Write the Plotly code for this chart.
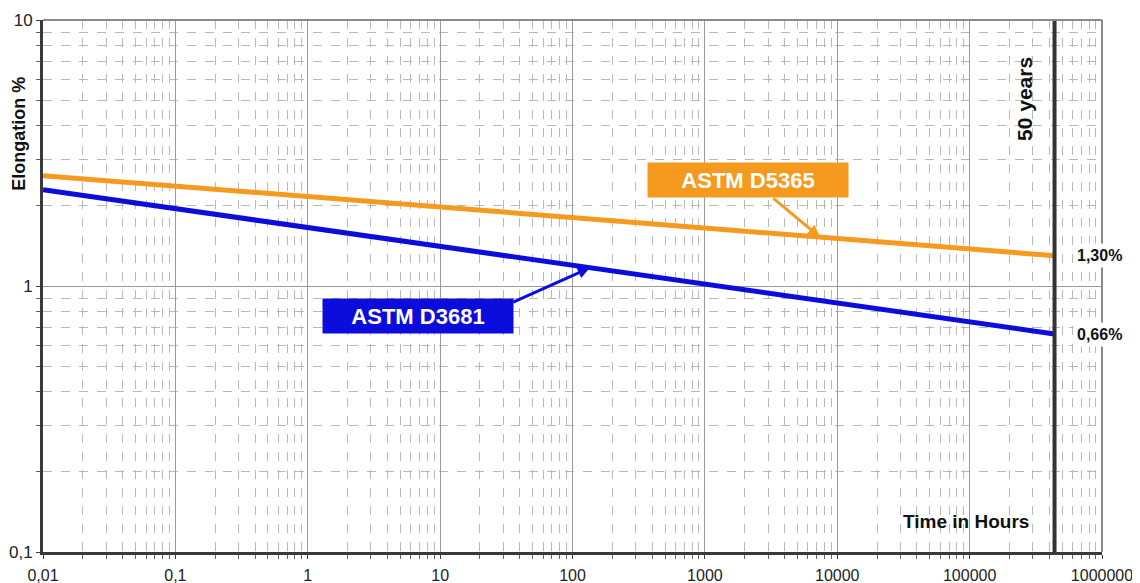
import plotly.graph_objects as go
import math

# Data
time_hours = [0.01, 438000]          # 0.01 h to 50 years (50*8760 h)
elong_d5365 = [2.60, 1.30]
elong_d3681 = [2.30, 0.66]
fifty_years_h = 438000
end_labels = ["1,30%", "0,66%"]

x_tickvals = [0.01, 0.1, 1, 10, 100, 1000, 10000, 100000, 1000000]
x_ticktext = ["0,01", "0,1", "1", "10", "100", "1000", "10000", "100000", "1000000"]
y_tickvals = [0.1, 1, 10]
y_ticktext = ["0,1", "1", "10"]

ORANGE = "#F59A1E"
BLUE = "#0C0CDC"
FONT = "Liberation Sans, Arial, sans-serif"

fig = go.Figure()
fig.add_trace(go.Scatter(x=time_hours, y=elong_d5365, mode="lines",
                         line=dict(color=ORANGE, width=5), showlegend=False))
fig.add_trace(go.Scatter(x=time_hours, y=elong_d3681, mode="lines",
                         line=dict(color=BLUE, width=5), showlegend=False))

# 50-year line
fig.add_shape(type="line", xref="x", yref="paper", x0=fifty_years_h, x1=fifty_years_h,
              y0=0, y1=1, line=dict(color="#333333", width=4))
# top and right borders (gray)
fig.add_shape(type="line", xref="paper", yref="paper", x0=0, x1=1, y0=1, y1=1,
              line=dict(color="#8a8a8a", width=2))
fig.add_shape(type="line", xref="paper", yref="paper", x0=1, x1=1, y0=0, y1=1,
              line=dict(color="#8a8a8a", width=2))


def lx(v):
    return math.log10(v)


def interp(series, xv):
    # position along the straight log-log line
    f = (lx(xv) - lx(time_hours[0])) / (lx(time_hours[1]) - lx(time_hours[0]))
    return 10 ** (lx(series[0]) + f * (lx(series[1]) - lx(series[0])))


PLOT_W = 1059.0

ann = []
# end labels
for lab, yv in zip(end_labels, [elong_d5365[1], elong_d3681[1]]):
    ann.append(dict(x=1.0, xref="paper", xanchor="center", xshift=-3,
                    y=lx(yv), yref="y", text="<b>%s</b>" % lab, showarrow=False,
                    font=dict(family=FONT, size=16, color="#111111"),
                    bgcolor="white", borderpad=3))

# arrows
xa = 7400
ann.append(dict(x=lx(xa), y=lx(interp(elong_d5365, xa)), xref="x", yref="y",
                ax=-48, ay=-40, text="", showarrow=True, arrowhead=2, arrowsize=0.8,
                arrowwidth=3, arrowcolor=ORANGE, standoff=0))
xb = 135
ann.append(dict(x=lx(xb), y=lx(interp(elong_d3681, xb)), xref="x", yref="y",
                ax=-78, ay=35, text="", showarrow=True, arrowhead=2, arrowsize=0.8,
                arrowwidth=3, arrowcolor=BLUE, standoff=0))

# label boxes
ann.append(dict(x=lx(xa), y=lx(interp(elong_d5365, xa)), xref="x", yref="y",
                xshift=-72, yshift=57, text="<b>ASTM D5365</b>", showarrow=False,
                font=dict(family=FONT, size=22, color="white"),
                bgcolor=ORANGE, width=196, height=30, borderpad=2))
ann.append(dict(x=lx(xb), y=lx(interp(elong_d3681, xb)), xref="x", yref="y",
                xshift=-172, yshift=-48, text="<b>ASTM D3681</b>", showarrow=False,
                font=dict(family=FONT, size=22, color="white"),
                bgcolor=BLUE, width=186, height=30, borderpad=2))

# text labels
ann.append(dict(x=(19 - 43) / PLOT_W, xref="paper", y=0.786, yref="paper",
                text="<b>Elongation %</b>",
                textangle=-90, showarrow=False, xanchor="center", yanchor="middle",
                font=dict(family=FONT, size=18, color="#111111")))
ann.append(dict(x=0.927, xref="paper", y=0.851, yref="paper", text="<b>50 years</b>",
                textangle=-90, showarrow=False, xanchor="center", yanchor="middle",
                font=dict(family=FONT, size=21, color="#111111")))
ann.append(dict(x=0.872, xref="paper", y=0.058, yref="paper", text="<b>Time in Hours</b>",
                showarrow=False, xanchor="center", yanchor="middle",
                font=dict(family=FONT, size=19, color="#111111")))

# page body has an 8px margin, so the figure is drawn 8px smaller and offset
fig.update_layout(
    width=1132, height=575,
    margin=dict(l=35, r=38, t=12, b=31, autoexpand=False),
    paper_bgcolor="white", plot_bgcolor="white",
    annotations=ann,
    font=dict(family=FONT, size=16, color="#222222"),
)
fig.update_xaxes(type="log", range=[-2, 6], tickvals=x_tickvals, ticktext=x_ticktext,
                 automargin=False, ticklabelstandoff=3,
                 showgrid=True, gridcolor="#9a9a9a", gridwidth=1,
                 showline=True, linecolor="#3a3a3a", linewidth=3,
                 ticks="outside", ticklen=4, tickcolor="#3a3a3a",
                 tickfont=dict(size=16, color="#222222"), zeroline=False,
                 minor=dict(dtick="D1", showgrid=True, gridcolor="#b8b8b8",
                            griddash="dash", gridwidth=1, ticks="outside", ticklen=4,
                            tickcolor="#666666"))
fig.update_yaxes(type="log", range=[-1, 1], tickvals=y_tickvals, ticktext=y_ticktext,
                 automargin=False,
                 showgrid=True, gridcolor="#9a9a9a", gridwidth=1,
                 showline=True, linecolor="#3a3a3a", linewidth=3,
                 ticks="outside", ticklen=4, tickcolor="#3a3a3a",
                 tickfont=dict(size=17, color="#222222"), zeroline=False,
                 minor=dict(dtick="D1", showgrid=True, gridcolor="#b8b8b8",
                            griddash="dash", gridwidth=1, ticks="outside", ticklen=4,
                            tickcolor="#666666"))

fig.write_html("out.html")
